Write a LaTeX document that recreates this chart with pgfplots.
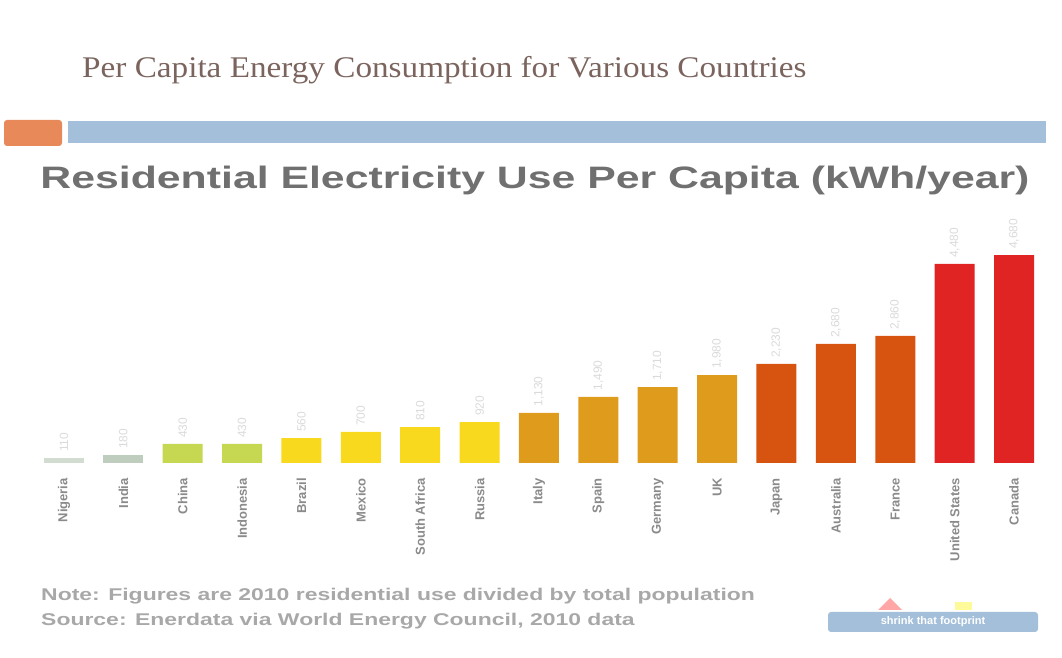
\documentclass[border=0pt]{standalone}
\usepackage{fontspec}
\setmainfont{Liberation Sans}
\newfontfamily\seriffont{Liberation Serif}
\usepackage{pgfplots}
\pgfplotsset{compat=1.18}
\definecolor{titlebrown}{HTML}{7A645D}
\definecolor{bandblue}{HTML}{A3BFDA}
\definecolor{orangeblk}{HTML}{E8895A}
\definecolor{headgray}{HTML}{707070}
\definecolor{labgray}{HTML}{8A8A8A}
\definecolor{valgray}{HTML}{DADADA}
\definecolor{notegray}{HTML}{A8A8A8}
\definecolor{cA}{HTML}{D3DCD0}
\definecolor{cB}{HTML}{BFCDBE}
\definecolor{cC}{HTML}{C6D752}
\definecolor{cD}{HTML}{F9D91E}
\definecolor{cE}{HTML}{DF9B1C}
\definecolor{cF}{HTML}{D6540F}
\definecolor{cG}{HTML}{E02424}
\begin{document}
\begin{tikzpicture}[x=1pt,y=1pt]
\path[use as bounding box] (0,0) rectangle (1062,658);
% slide title
\node[anchor=base west, inner sep=0pt, text=titlebrown, font=\seriffont\fontsize{30}{34}\selectfont] at (82,580) {\scalebox{1.107}[1]{Per Capita Energy Consumption for Various Countries}};
% decorative band
\fill[orangeblk, rounded corners=3pt] (4,512) rectangle (62,538);
\fill[bandblue] (68,515) rectangle (1046,537);
% chart heading
\node[anchor=base, inner sep=0pt, text=headgray, font=\bfseries\fontsize{31}{34}\selectfont] at (535,469) {\scalebox{1.38}[1]{Residential Electricity Use Per Capita (kWh/year)}};
\begin{axis}[
  at={(34.3pt,195pt)}, anchor=south west,
  scale only axis, width=1009.4pt, height=222.2pt,
  xmin=-0.5, xmax=16.5, ymin=0, ymax=5000,
  clip=false,
  axis line style={draw=none},
  major tick length=0pt,
  ytick=\empty,
  xtick={0,...,16},
  xticklabels={Nigeria,India,China,Indonesia,Brazil,Mexico,South Africa,Russia,Italy,Spain,Germany,UK,Japan,Australia,France,United States,Canada},
  xticklabel style={rotate=90, anchor=east, text=labgray, font=\bfseries\fontsize{13}{13}\selectfont, inner xsep=15pt},
  ybar, bar width=40pt,
  nodes near coords,
  every node near coord/.append style={rotate=90, anchor=west, text=valgray, font=\fontsize{12}{12}\selectfont, inner sep=6pt},
  /pgf/number format/assume math mode=true,
  /pgf/number format/1000 sep={,},
]
\addplot[fill=cA, draw=none, bar shift=0pt] coordinates {(0,110)};
\addplot[fill=cB, draw=none, bar shift=0pt] coordinates {(1,180)};
\addplot[fill=cC, draw=none, bar shift=0pt] coordinates {(2,430) (3,430)};
\addplot[fill=cD, draw=none, bar shift=0pt] coordinates {(4,560) (5,700) (6,810) (7,920)};
\addplot[fill=cE, draw=none, bar shift=0pt] coordinates {(8,1130) (9,1490) (10,1710) (11,1980)};
\addplot[fill=cF, draw=none, bar shift=0pt] coordinates {(12,2230) (13,2680) (14,2860)};
\addplot[fill=cG, draw=none, bar shift=0pt] coordinates {(15,4480) (16,4680)};
\end{axis}
% footnote
\node[anchor=base west, inner sep=0pt, text=notegray, font=\bfseries\fontsize{17}{20}\selectfont] at (41,57) {\scalebox{1.35}[1]{Note: Figures are 2010 residential use divided by total population}};
\node[anchor=base west, inner sep=0pt, text=notegray, font=\bfseries\fontsize{17}{20}\selectfont] at (41,32) {\scalebox{1.35}[1]{Source: Enerdata via World Energy Council, 2010 data}};
% logo
\fill[bandblue, rounded corners=3pt] (828,26) rectangle (1038,46);
\fill[red!35] (878,48) -- (890,60) -- (902,48) -- cycle;
\fill[yellow!40] (955,48) rectangle (972,56);
\node[text=white, font=\bfseries\fontsize{11}{11}\selectfont, inner sep=0pt] at (933,36) {shrink that footprint};
\end{tikzpicture}
\end{document}
